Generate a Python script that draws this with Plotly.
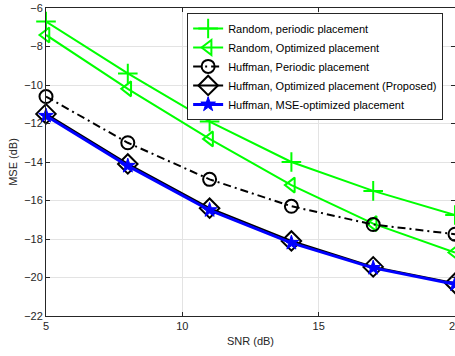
import plotly.graph_objects as go

snr = [5, 8, 11, 14, 17, 20]
rand_periodic = [-6.7, -9.4, -11.9, -14.0, -15.5, -16.75]
rand_optimized = [-7.4, -10.2, -12.8, -15.2, -17.2, -18.7]
huff_periodic = [-10.6, -13.0, -14.9, -16.3, -17.25, -17.75]
huff_optimized = [-11.5, -14.1, -16.4, -18.1, -19.45, -20.3]
huff_mse = [-11.6, -14.2, -16.5, -18.2, -19.5, -20.35]

names = ["Random, periodic placement",
         "Random, Optimized placement",
         "Huffman, Periodic placement",
         "Huffman, Optimized placement (Proposed)",
         "Huffman, MSE-optimized placement"]

caption = ("MSE&nbsp; performance&nbsp;&nbsp; of&nbsp;&nbsp; various&nbsp;&nbsp; algorithms"
           "&nbsp;&nbsp; for&nbsp;&nbsp; a&nbsp;&nbsp; <i>T</i>&nbsp; =&nbsp; 0.01")

GREEN = "#00FF00"
fig = go.Figure()
fig.add_trace(go.Scatter(x=snr, y=rand_periodic, name=names[0], mode="lines+markers",
                         line=dict(color=GREEN, width=2),
                         marker=dict(symbol="cross-thin-open", size=14, color=GREEN,
                                     line=dict(color=GREEN, width=2)), cliponaxis=False))
fig.add_trace(go.Scatter(x=snr, y=rand_optimized, name=names[1], mode="lines+markers",
                         line=dict(color=GREEN, width=2),
                         marker=dict(symbol="triangle-left-open", size=13, color=GREEN,
                                     line=dict(color=GREEN, width=2)), cliponaxis=False))
fig.add_trace(go.Scatter(x=snr, y=huff_periodic, name=names[2], mode="lines+markers",
                         line=dict(color="black", width=2, dash="8px,4px,2px,4px"),
                         marker=dict(symbol="circle-open", size=13, color="black",
                                     line=dict(color="black", width=2)), cliponaxis=False))
fig.add_trace(go.Scatter(x=snr, y=huff_optimized, name=names[3], mode="lines+markers",
                         line=dict(color="black", width=2),
                         marker=dict(symbol="diamond-open", size=15, color="black",
                                     line=dict(color="black", width=2)), cliponaxis=False))
fig.add_trace(go.Scatter(x=snr, y=huff_mse, name=names[4], mode="lines+markers",
                         line=dict(color="#0000FF", width=3),
                         marker=dict(symbol="star", size=11, color="#0000FF",
                                     line=dict(color="#0000FF", width=1)), cliponaxis=False))

axis_common = dict(showgrid=True, gridcolor="#E3E3E3", gridwidth=1,
                   showline=True, linecolor="#262626", linewidth=1, mirror="ticks",
                   ticks="inside", ticklen=4, tickcolor="#262626",
                   tickfont=dict(family="Liberation Sans, Arial", size=11, color="#262626"),
                   zeroline=False, ticklabeloverflow="allow", automargin=False)

fig.update_layout(
    width=455, height=356,
    margin=dict(l=46, r=0, t=8, b=40),
    paper_bgcolor="white", plot_bgcolor="white",
    font=dict(family="Liberation Sans, Arial", color="#262626"),
    xaxis=dict(range=[5, 20], tickvals=[5, 10, 15, 20],
               title=dict(text="SNR (dB)", font=dict(size=11), standoff=6), **axis_common),
    yaxis=dict(range=[-22, -6], tickvals=list(range(-22, -5, 2)),
               title=dict(text="MSE (dB)", font=dict(size=11), standoff=4), **axis_common),
    legend=dict(x=0.971, y=0.984, xanchor="right", yanchor="top",
                bgcolor="white", bordercolor="#262626", borderwidth=1,
                font=dict(size=11, color="black"), itemwidth=30, tracegroupgap=0),
    showlegend=True,
)

fig.add_annotation(text=caption,
                   xref="paper", yref="paper", x=-0.15, y=-0.115,
                   xanchor="left", yanchor="top", showarrow=False,
                   font=dict(family="Liberation Serif, Times New Roman", size=17, color="black"))

fig.write_html("out.html")
